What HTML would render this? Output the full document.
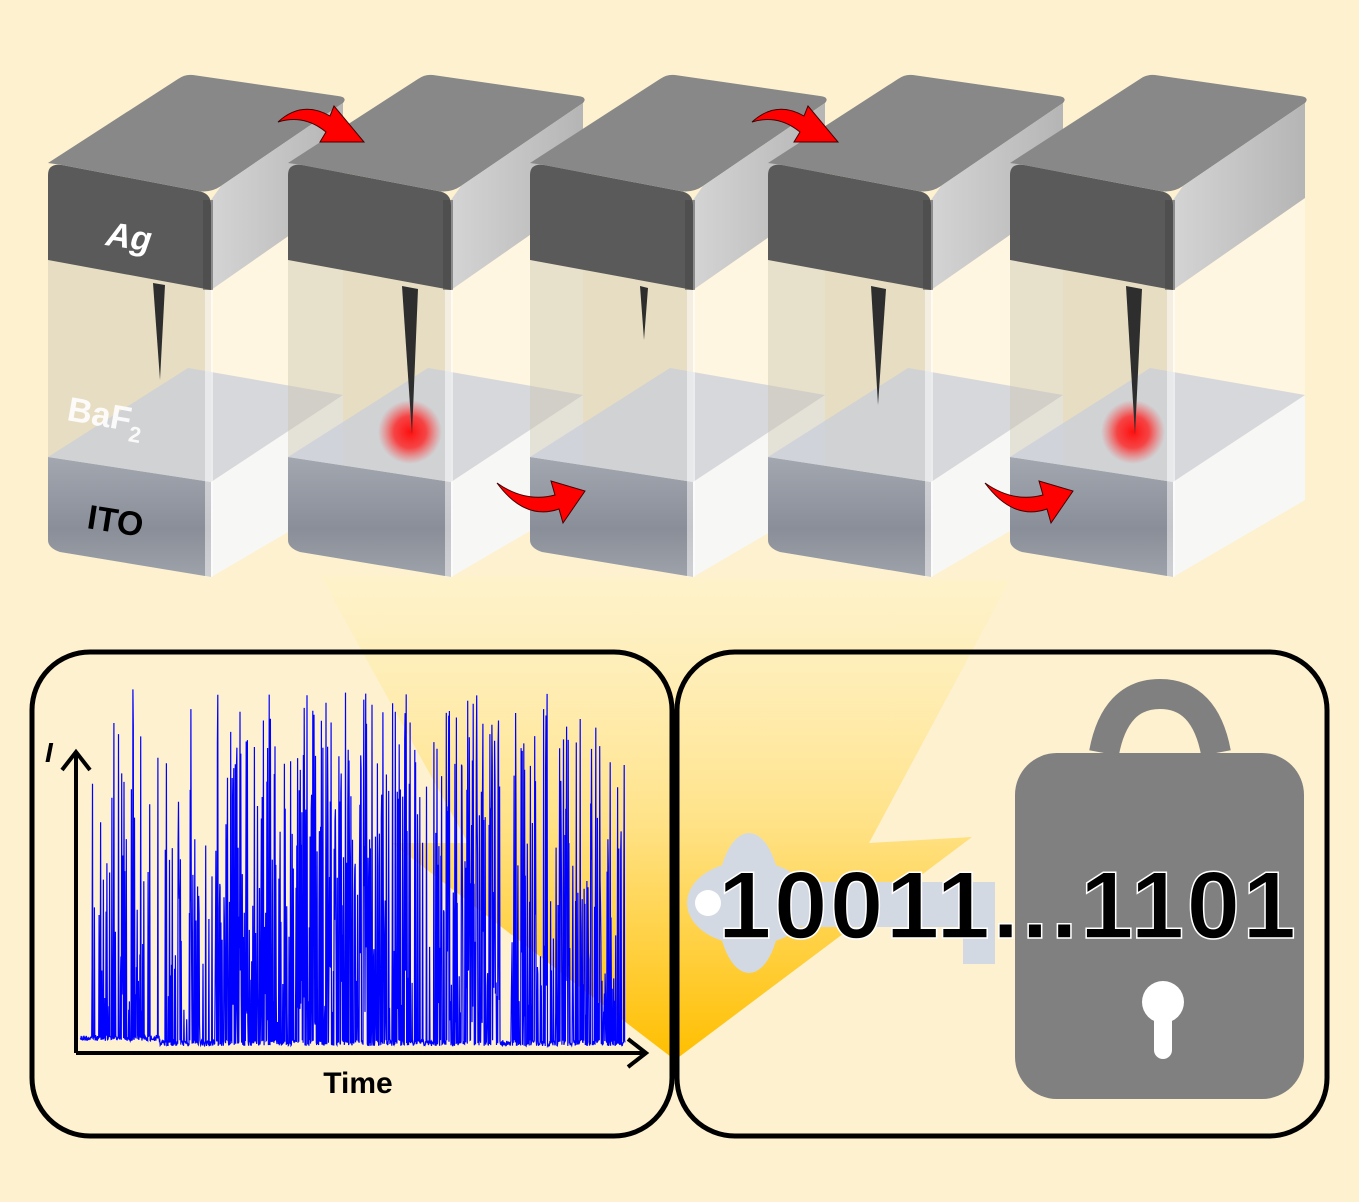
<!DOCTYPE html>
<html><head><meta charset="utf-8"><style>
html,body{margin:0;padding:0;background:#fdf1cf;}
svg{display:block;}
</style></head><body>
<svg id="s" width="1359" height="1202" viewBox="0 0 1359 1202" xmlns="http://www.w3.org/2000/svg">
<defs>
<linearGradient id="beam" x1="0" y1="0" x2="0" y2="1">
<stop offset="0" stop-color="#fff3c8" stop-opacity="0.6"/>
<stop offset="0.5" stop-color="#ffe38a"/>
<stop offset="1" stop-color="#ffbf00"/>
</linearGradient>
<linearGradient id="ito" x1="0" y1="0" x2="0" y2="1">
<stop offset="0" stop-color="#a3a7b0"/><stop offset="0.6" stop-color="#8a8e98"/><stop offset="1" stop-color="#9ea2aa"/>
</linearGradient>
<linearGradient id="agside" x1="0" y1="0" x2="1" y2="0">
<stop offset="0" stop-color="#d4d4d4"/><stop offset="1" stop-color="#b5b5b5"/>
</linearGradient>
<radialGradient id="glow"><stop offset="0" stop-color="#ff1010" stop-opacity="1"/><stop offset="0.5" stop-color="#ff2020" stop-opacity="0.8"/><stop offset="1" stop-color="#ff4040" stop-opacity="0"/></radialGradient>
<g id="blk">
<polygon points="163,290 295,198 295,500 163,577" fill="#ffffff" opacity="0.35"/>
<polygon points="0,260 163,290 163,482 0,457" fill="#cbc6b2" opacity="0.45"/>
<polygon points="163,482 295,395 295,500 163,577" fill="#f7f7f7" opacity="0.95"/>
<path d="M0,457 L163,482 L163,577 L12,552 Q0,548 0,540 Z" fill="url(#ito)"/>
<polygon points="0,457 163,482 295,395 140,368" fill="#c9cdd9" opacity="0.75"/>
<rect x="157" y="290" width="8" height="287" fill="#ffffff" opacity="0.5"/>
<path d="M0,175 Q0,163 14,165 L150,191 Q163,193 163,205 L163,290 L0,260 Z" fill="#5a5a5a"/>
<path d="M14,165 L150,191 Q163,193 173,186 L295,103 Q300,97 290,96 L145,75 Q137,74 130,79 L0,163 Z" fill="#888888"/>
<polygon points="163,200 173,186 295,103 295,198 163,290" fill="url(#agside)"/>
<rect x="155" y="200" width="10" height="90" fill="#444" opacity="0.5"/>
</g>
<g id="arT"><path d="M0,12 Q24,-10 52,6 L56,-4 L86,32 L42,32 L48,22 Q26,4 0,12 Z" fill="#ff0000" stroke="#400" stroke-width="1"/></g>
<g id="arB"><path d="M0,0 Q28,20 58,12 L54,-2 L88,8 L66,40 L62,26 Q28,38 0,0 Z" fill="#ff0000" stroke="#400" stroke-width="1"/></g>
</defs>
<rect width="1359" height="1202" fill="#fdf1cf"/>
<polygon points="320,575 1010,580 869,843 972,837 675,1060 392,843 468,843" fill="url(#beam)"/>

<use href="#blk" transform="translate(48,0)"/>
<use href="#blk" transform="translate(288,0)"/>
<use href="#blk" transform="translate(530,0)"/>
<use href="#blk" transform="translate(768,0)"/>
<use href="#blk" transform="translate(1010,0)"/>

<!-- filaments -->
<polygon points="153,283 165,285 160,380" fill="#2e2e2e"/>
<circle cx="410" cy="432" r="32" fill="url(#glow)"/>
<polygon points="402,286 418,289 412,435" fill="#2e2e2e"/>
<polygon points="640,286 648,288 644,340" fill="#2e2e2e"/>
<polygon points="871,286 886,289 878,405" fill="#2e2e2e"/>
<circle cx="1133" cy="432" r="32" fill="url(#glow)"/>
<polygon points="1126,286 1142,289 1135,435" fill="#2e2e2e"/>

<use href="#arT" transform="translate(278,110)"/>
<use href="#arT" transform="translate(752,110)"/>
<use href="#arB" transform="translate(497,483)"/>
<use href="#arB" transform="translate(985,483)"/>

<text x="105" y="245" font-family="Liberation Sans, sans-serif" font-weight="bold" font-style="italic" font-size="34" fill="#fff" transform="rotate(8 105 245)">Ag</text>
<text x="66" y="420" font-family="Liberation Sans, sans-serif" font-weight="bold" font-size="34" fill="#fff" opacity="0.9" transform="rotate(10 66 420)">BaF<tspan font-size="22" dy="10">2</tspan></text>
<text x="86" y="528" font-family="Liberation Sans, sans-serif" font-weight="bold" font-size="34" fill="#000" transform="rotate(9 86 528)">ITO</text>

<!-- panels -->
<rect x="32" y="652" width="640" height="484" rx="58" fill="none" stroke="#000" stroke-width="5"/>
<rect x="677" y="652" width="650" height="484" rx="58" fill="none" stroke="#000" stroke-width="5"/>

<!-- chart -->
<polyline id="sig" fill="none" stroke="#0000ff" stroke-width="1.2" points=""/>
<path d="M76,1053 L76,752 M62,770 L76,752 L90,770 M76,1053 L646,1053 M628,1039 L646,1053 L628,1067" fill="none" stroke="#000" stroke-width="4"/>
<text x="45" y="762" font-family="Liberation Sans, sans-serif" font-weight="bold" font-style="italic" font-size="28">I</text>
<text x="358" y="1093" text-anchor="middle" font-family="Liberation Sans, sans-serif" font-weight="bold" font-size="30">Time</text>

<!-- key -->
<g fill="#d3d9e3">
<ellipse cx="749" cy="903" rx="32" ry="70"/>
<ellipse cx="749" cy="903" rx="62" ry="42"/>
<rect x="770" y="882" width="225" height="45"/>
<rect x="963" y="920" width="32" height="44"/>
</g>
<circle cx="708" cy="903" r="13" fill="#fff"/>

<!-- lock -->
<path d="M1104,753 Q1115,694 1160,694 Q1205,694 1216,753" fill="none" stroke="#808080" stroke-width="30"/>
<rect x="1015" y="753" width="289" height="346" rx="42" fill="#808080"/>
<circle cx="1163" cy="1002" r="21" fill="#fff"/>
<rect x="1154" y="1005" width="18" height="54" rx="9" fill="#fff"/>

<text x="718" y="938" font-family="Liberation Sans, sans-serif" font-weight="bold" font-size="96" fill="#000" stroke="#fff" stroke-width="1.5" textLength="578" lengthAdjust="spacing">10011...1101</text>
</svg>
<script>
(function(){
var s=12345;function r(){s=(s*1103515245+12345)%2147483648;return s/2147483648;}
var pts=[];var N=1400;
function dens(x){
 if(x<92) return 0.02; if(x<150) return 0.35; if(x<165) return 0.03; if(x<200)return 0.4;
 if(x<215) return 0.05; if(x<420) return 0.55; if(x<435)return 0.1; if(x<500) return 0.6;
 if(x<510) return 0.05; if(x<625) return 0.45; return 0;}
for(var i=0;i<=N;i++){
 var x=80+i*545/N; var base=1040+ (x<160?-5:0) + r()*6;
 var y=base;
 if(r()<dens(x)){ var h=r(); y= base - (h*h*0.6+h*0.4)*330 - 20; if(r()<0.03) y=680+r()*130;}
 pts.push(x.toFixed(1)+","+y.toFixed(1));
}
document.getElementById('sig').setAttribute('points',pts.join(' '));
})();
</script>
</body></html>
